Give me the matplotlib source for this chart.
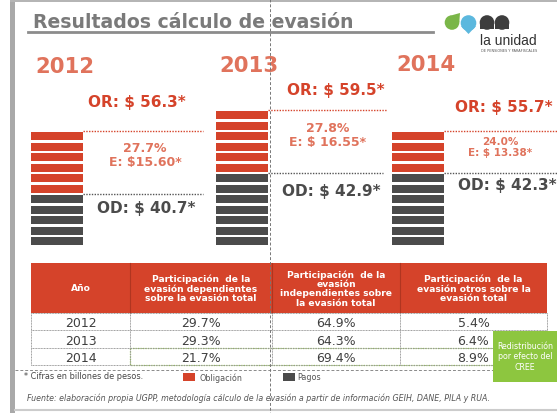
import matplotlib
matplotlib.use("Agg")
import matplotlib.pyplot as plt
from matplotlib.patches import Rectangle, Circle, Polygon

# ---------------- data ----------------
years = ["2012", "2013", "2014"]
or_values = ["56.3", "59.5", "55.7"]
od_values = ["40.7", "42.9", "42.3"]
e_values = ["15.60", "16.55", "13.38"]
e_pct = ["27.7%", "27.8%", "24.0%"]
red_blocks = [6, 6, 4]      # obligación blocks
gray_blocks = [5, 7, 7]     # pagos blocks

table_header = ["Año",
                "Participación  de la\nevasión dependientes\nsobre la evasión total",
                "Participación  de la\nevasión\nindependientes sobre\nla evasión total",
                "Participación  de la\nevasión otros sobre la\nevasión total"]
share_dep = ["29.7%", "29.3%", "21.7%"]
share_ind = ["64.9%", "64.3%", "69.4%"]
share_otros = ["5.4%", "6.4%", "8.9%"]

# ---------------- style ----------------
RED = "#d5432a"
DARK = "#4b4b4b"
SALMON = "#e0735c"
GREY_T = "#7a7a7a"
W, H = 557, 414

fig = plt.figure(figsize=(W / 100, H / 100), dpi=100)
fig.patch.set_facecolor("white")

# background axes in pixel coordinates
ax = fig.add_axes([0, 0, 1, 1])
ax.set_xlim(0, W)
ax.set_ylim(H, 0)
ax.axis("off")

# slide frame
ax.add_patch(Rectangle((10, 0), 5, H, color="#a9a9a9", lw=0))
ax.add_patch(Rectangle((10, 0), W, 2.5, color="#b5b5b5", lw=0))
ax.plot([15, W], [411, 411], color="#cccccc", lw=1.5)

# title
ax.text(33, 22, "Resultados cálculo de evasión", fontsize=13.6, fontweight="bold",
        color=GREY_T, va="center", ha="left")
ax.plot([28, 433], [33, 33], color="#8c8c8c", lw=2)

# logo
ax.add_patch(Circle((452, 23.5), 7.3, color="#7ab648", lw=0))
ax.add_patch(Polygon([[452, 16.2], [459.3, 23.5], [460, 14]], color="#7ab648", lw=0))
ax.add_patch(Circle((468.5, 24), 7.8, color="#5cb8de", lw=0))
ax.add_patch(Polygon([[461, 27], [476, 27], [468.5, 35]], color="#5cb8de", lw=0))
ax.add_patch(Circle((487, 23.5), 7.3, color="#3d3d3d", lw=0))
ax.add_patch(Rectangle((479.7, 23.5), 14.6, 6.5, color="#3d3d3d", lw=0))
ax.add_patch(Circle((502, 23.5), 7.3, color="#3d3d3d", lw=0))
ax.add_patch(Rectangle((494.7, 23.5), 14.6, 6.5, color="#3d3d3d", lw=0))
ax.text(480, 41, "la unidad", fontsize=10, color="#333333", ha="left", va="center",
        family="Liberation Sans")
ax.text(509.5, 50.5, "DE PENSIONES Y PARAFISCALES", fontsize=2.5, color="#555555",
        ha="center", va="center")

# ---------------- bars (block units) ----------------
bottom_px = 247
pitch = 10.5
n_units = 20
bx = fig.add_axes([0, (H - bottom_px) / H, 1, pitch * n_units / H])
bx.set_xlim(0, W)
bx.set_ylim(0, n_units)
bx.axis("off")
bx.patch.set_alpha(0)

stack_x = [57, 242, 417.5]
bar_w = 52
line_end = [[203, 203], [387, 383], [557, 557]]
for i in range(3):
    n_g, n_r = gray_blocks[i], red_blocks[i]
    bottoms = list(range(n_g + n_r))
    cols = [DARK] * n_g + [RED] * n_r
    bx.bar([stack_x[i]] * len(bottoms), [0.78] * len(bottoms), width=bar_w,
           bottom=[b + 0.06 for b in bottoms], color=cols, lw=0)
    x0 = stack_x[i] + bar_w / 2
    bx.plot([x0, line_end[i][0]], [n_g + n_r - 0.02, n_g + n_r - 0.02], ls=(0, (1, 1)),
            color=RED, lw=1)
    bx.plot([x0, line_end[i][1]], [n_g + 0.0, n_g + 0.0], ls=(0, (1, 1)),
            color="#555555", lw=1)

# ---------------- annotations ----------------
year_pos = [(35, 67), (219, 66), (396, 65)]
or_pos = [(88, 103), (287, 90), (455, 108)]
od_pos = [(97, 209), (282, 192), (458, 186)]
pct_pos = [(145, 149, 163, 9), (328, 129, 143, 9), (500, 142, 153, 7.5)]
e_fmt = ["E: ${}*", "E: $ {}*", "E: $ {}*"]
for i in range(3):
    ax.text(year_pos[i][0], year_pos[i][1], years[i], fontsize=15.3, fontweight="bold",
            color=SALMON, ha="left", va="center")
    ax.text(or_pos[i][0], or_pos[i][1], "OR: $ " + or_values[i] + "*", fontsize=11,
            fontweight="bold", color=RED, ha="left", va="center")
    ax.text(od_pos[i][0], od_pos[i][1], "OD: $ " + od_values[i] + "*", fontsize=11,
            fontweight="bold", color=DARK, ha="left", va="center")
    px, py1, py2, fs = pct_pos[i]
    ax.text(px, py1, e_pct[i], fontsize=fs, fontweight="bold", color=SALMON,
            ha="center", va="center")
    ax.text(px, py2, e_fmt[i].format(e_values[i]), fontsize=fs, fontweight="bold",
            color=SALMON, ha="center", va="center")

# ---------------- table ----------------
col_x = [31, 130, 272, 400, 547]
row_y = [264, 314, 331, 349, 366]
ax.add_patch(Rectangle((col_x[0], row_y[0]), col_x[-1] - col_x[0], row_y[1] - row_y[0],
                       color=RED, lw=0))
for c in range(4):
    cx = (col_x[c] + col_x[c + 1]) / 2
    ax.text(cx, (row_y[0] + row_y[1]) / 2, table_header[c], fontsize=6.6,
            fontweight="bold", color="white", ha="center", va="center", linespacing=1.05)
for xx in col_x[1:-1]:
    ax.plot([xx, xx], [row_y[0], row_y[1]], color="#b03520", lw=0.8)
# body grid
for yy in row_y[1:]:
    ax.plot([col_x[0], col_x[-1]], [yy, yy], color="#9a9a9a", lw=0.7, ls=(0, (1, 0.6)))
for xx in col_x:
    ax.plot([xx, xx], [row_y[1], row_y[-1]], color="#9a9a9a", lw=0.7, ls=(0, (1, 0.6)))
body = [years, share_dep, share_ind, share_otros]
for c in range(4):
    cx = (col_x[c] + col_x[c + 1]) / 2
    for r in range(3):
        cy = (row_y[r + 1] + row_y[r + 2]) / 2 + 1.5
        ax.text(cx, cy, body[c][r], fontsize=9, color="#3f3f3f", ha="center", va="center")
# green dotted highlight of 2014 row
ax.add_patch(Rectangle((col_x[1], row_y[3]), 500 - col_x[1], row_y[4] - row_y[3],
                       fill=False, ec="#8dc63f", lw=0.9, ls=(0, (1, 1))))

# dashed separator
ax.plot([15, W], [371, 371], color="#8a8a8a", lw=0.7, ls=(0, (3, 2)))

# green box
ax.add_patch(Rectangle((493, 332), 70, 51, color="#8dc63f", lw=0, zorder=3))
ax.text(525, 357, "Redistribución\npor efecto del\nCREE", fontsize=5.7, color="white",
        ha="center", va="center", linespacing=1.2, zorder=4)

# footnote & legend
ax.text(24, 377, "* Cifras en billones de pesos.", fontsize=5.9, color="#444444",
        ha="left", va="center")
ax.add_patch(Rectangle((183, 374), 12, 8, color=RED, lw=0))
ax.text(200, 378, "Obligación", fontsize=5.8, color="#555555", ha="left", va="center")
ax.add_patch(Rectangle((283, 374), 12, 8, color=DARK, lw=0))
ax.text(297, 378, "Pagos", fontsize=5.8, color="#555555", ha="left", va="center")
ax.text(27, 398, "Fuente: elaboración propia UGPP, metodología cálculo de la evasión a partir "
        "de información GEIH, DANE, PILA y RUA.", fontsize=5.65, style="italic",
        color="#555555", ha="left", va="center")

# editor guide lines on top
gx = fig.add_axes([0, 0, 1, 1])
gx.set_xlim(0, W)
gx.set_ylim(H, 0)
gx.axis("off")
gx.patch.set_alpha(0)
gx.plot([270, 270], [0, H], color="#777777", lw=0.7, ls=(0, (3, 2)))

fig.savefig("out.png", dpi=100, facecolor="white")
